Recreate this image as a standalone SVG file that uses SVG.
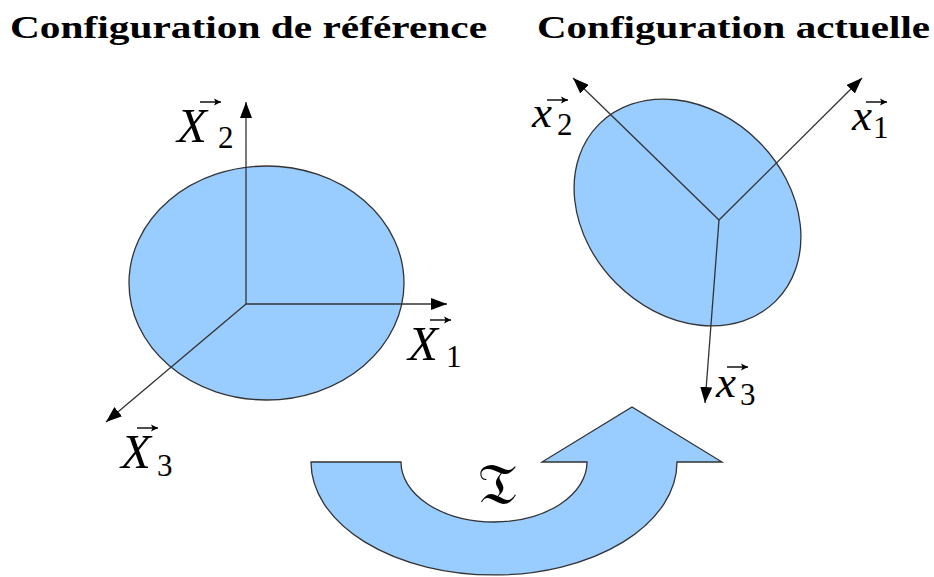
<svg xmlns="http://www.w3.org/2000/svg" width="934" height="577" viewBox="0 0 934 577">
<style>
.title{font-family:"Liberation Serif","DejaVu Serif",serif;font-weight:bold;font-size:32px;fill:#000}
.shape{fill:#99ccff;stroke:#333;stroke-width:1.3}
.axis{stroke:#333;stroke-width:1.3;fill:none;marker-end:url(#ah)}
.vec{stroke:#000;stroke-width:1.4;fill:none;marker-end:url(#vh)}
.lbl{font-family:"Liberation Serif","DejaVu Serif",serif;fill:#000}
.it{font-style:italic}
.sub{font-size:31px}
</style>
<defs>
<marker id="ah" markerUnits="userSpaceOnUse" markerWidth="18" markerHeight="12" refX="16" refY="6" orient="auto">
<path d="M0,0 L16,6 L0,12 Z" fill="#000"/>
</marker>
<marker id="vh" markerUnits="userSpaceOnUse" markerWidth="8" markerHeight="8" refX="7" refY="4" orient="auto">
<path d="M0,0.5 L7,4 L0,7.5 L1.5,4 Z" fill="#000"/>
</marker>
</defs>
<rect width="934" height="577" fill="#fff"/>
<g id="titles">
<text class="title" x="10" y="38" textLength="477" lengthAdjust="spacingAndGlyphs">Configuration de référence</text>
<text class="title" x="537" y="38" textLength="393" lengthAdjust="spacingAndGlyphs">Configuration actuelle</text>
</g>
<g id="ref-body">
<ellipse class="shape" cx="266.5" cy="283" rx="137.5" ry="117"/>
</g>
<g id="cur-body">
<ellipse class="shape" cx="0" cy="0" rx="125" ry="100.5" transform="translate(687.5,212.5) rotate(45)"/>
</g>
<g id="transform-arrow">
<path class="shape" d="M311,462 L401,462 A93,60 0 0 0 587,462 L542,462 L632,407 L722,462 L677,462 A183,113 0 0 1 311,462 Z"/>
<text x="497" y="504" font-family="'DejaVu Serif','Noto Sans',serif" font-size="58" text-anchor="middle">𝔗</text>
</g>
<g id="connectors">
<line class="axis" x1="246" y1="304" x2="246" y2="102"/>
<line class="axis" x1="246" y1="304" x2="447" y2="304"/>
<line class="axis" x1="246" y1="304" x2="106" y2="422"/>
<line class="axis" x1="719" y1="220" x2="573" y2="78"/>
<line class="axis" x1="719" y1="220" x2="862" y2="78"/>
<line class="axis" x1="719" y1="220" x2="705" y2="403"/>
</g>
<g id="label-X2">
<text class="lbl"><tspan class="it" x="177" y="142" font-size="49">X</tspan><tspan class="sub" x="218" y="148">2</tspan></text>
<line class="vec" x1="200" y1="102" x2="221" y2="102"/>
</g>
<g id="label-X1">
<text class="lbl"><tspan class="it" x="408" y="360" font-size="49">X</tspan><tspan class="sub" x="446" y="367">1</tspan></text>
<line class="vec" x1="430" y1="320" x2="451" y2="320"/>
</g>
<g id="label-X3">
<text class="lbl"><tspan class="it" x="121" y="468" font-size="49">X</tspan><tspan class="sub" x="157" y="476">3</tspan></text>
<line class="vec" x1="137" y1="428" x2="158" y2="428"/>
</g>
<g id="label-x2">
<text class="lbl"><tspan class="it" x="532" y="127" font-size="45">x</tspan><tspan class="sub" x="557" y="135">2</tspan></text>
<line class="vec" x1="547" y1="100" x2="568" y2="100"/>
</g>
<g id="label-x1">
<text class="lbl"><tspan class="it" x="852" y="130" font-size="45">x</tspan><tspan class="sub" x="873" y="138">1</tspan></text>
<line class="vec" x1="866" y1="102" x2="887" y2="102"/>
</g>
<g id="label-x3">
<text class="lbl"><tspan class="it" x="716" y="397" font-size="45">x</tspan><tspan class="sub" x="740" y="405">3</tspan></text>
<line class="vec" x1="727" y1="367" x2="748" y2="367"/>
</g>
</svg>
